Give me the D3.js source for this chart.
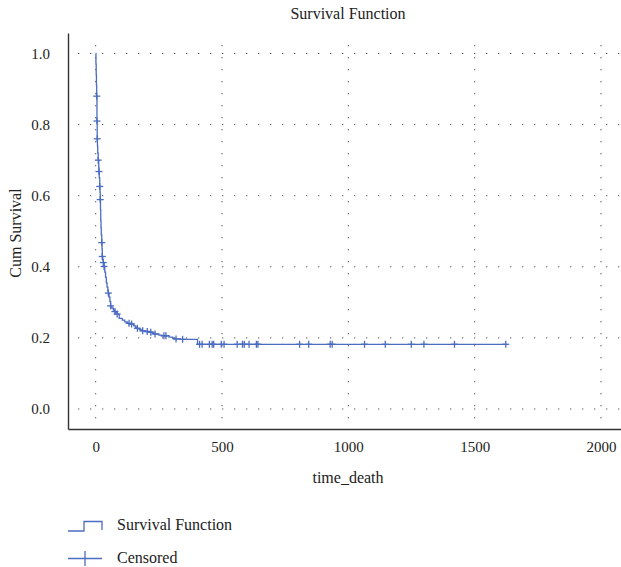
<!DOCTYPE html>
<html>
<head>
<meta charset="utf-8">
<script src="https://cdn.jsdelivr.net/npm/d3@7"></script>
<style>
  body { margin: 0; background: #fff; }
  svg { display: block; font-family: "Liberation Serif", "DejaVu Serif", serif; }
  .grid line { stroke: #555; stroke-width: 1; stroke-dasharray: 1.3 10.7; }
  .axis path { stroke: #333; stroke-width: 1.4; }
  .axis text { font-size: 15px; fill: #222; font-family: "Liberation Serif", serif; }
  .label { font-size: 16px; fill: #222; }
</style>
</head>
<body>
<div id="wrapper"></div>
<script>
// step points of the Kaplan-Meier curve (time, survival after the event)
const eventTimes = [0, 1, 2, 3, 4, 5, 6, 7, 8, 10, 12, 13, 14, 16, 17, 18, 19, 20, 21, 22, 24, 25, 26, 28, 30, 33,
  36, 39, 42, 45, 48, 50, 53, 56, 59, 64, 70, 76, 80, 85, 93, 105, 115, 125, 138, 150, 158, 165, 172, 180,
  195, 210, 225, 232, 250, 262, 290, 305, 312, 335, 403];
const eventSurvival = [1.0, 0.97, 0.94, 0.91, 0.88, 0.81, 0.76, 0.74, 0.72, 0.70, 0.68, 0.668, 0.65, 0.626, 0.61, 0.589, 0.56, 0.53, 0.51, 0.49, 0.468, 0.45, 0.429, 0.42, 0.412, 0.401,
  0.385, 0.37, 0.355, 0.343, 0.332, 0.326, 0.315, 0.303, 0.29, 0.284, 0.278, 0.274, 0.27, 0.267, 0.255, 0.25, 0.245, 0.241, 0.239, 0.234, 0.23, 0.227, 0.224, 0.22,
  0.218, 0.216, 0.213, 0.211, 0.208, 0.206, 0.202, 0.199, 0.197, 0.196, 0.182];

// censored observations
const censorTimes = [4, 5, 6, 10, 13, 16, 18, 24, 26, 30, 33, 50, 59, 76, 85, 132, 142, 165, 186, 204, 218, 235, 270, 278, 318, 344,
  411, 421, 450, 461, 467, 497, 508, 560, 581, 588, 607, 636, 642, 807, 843, 928, 936, 1064, 1146, 1249, 1299, 1420, 1623];

const xTicks = [0, 500, 1000, 1500, 2000];
const yTicks = [0.0, 0.2, 0.4, 0.6, 0.8, 1.0];

const lineColor = "#4b6cc0";

// survival at a given time (step function lookup)
const survivalAt = t => eventSurvival[d3.bisectRight(eventTimes, t) - 1];

// dimensions
const dimensions = {
  width: 621,
  height: 567,
  plot: { left: 68, right: 621, top: 33, bottom: 429 },
};

const wrapper = d3.select("#wrapper")
  .append("svg")
  .attr("width", dimensions.width)
  .attr("height", dimensions.height);

// scales
const xScale = d3.scaleLinear()
  .domain([-109.6, 2079])
  .range([dimensions.plot.left, dimensions.plot.right]);

const yScale = d3.scaleLinear()
  .domain([-0.0563, 1.0577])
  .range([dimensions.plot.bottom, dimensions.plot.top]);

// grid
const grid = wrapper.append("g").attr("class", "grid");
grid.selectAll(".vgrid")
  .data(xTicks)
  .enter().append("line")
  .attr("x1", d => xScale(d)).attr("x2", d => xScale(d))
  .attr("y1", dimensions.plot.top + 12).attr("y2", dimensions.plot.bottom);
grid.selectAll(".hgrid")
  .data(yTicks)
  .enter().append("line")
  .attr("x1", dimensions.plot.left + 10).attr("x2", dimensions.plot.right)
  .attr("y1", d => yScale(d)).attr("y2", d => yScale(d));

// axes
const xAxis = d3.axisBottom(xScale)
  .tickValues(xTicks)
  .tickSize(0)
  .tickPadding(12)
  .tickFormat(d3.format("d"));
wrapper.append("g")
  .attr("class", "axis")
  .attr("transform", `translate(0, ${dimensions.plot.bottom})`)
  .call(xAxis);

const yAxis = d3.axisLeft(yScale)
  .tickValues(yTicks)
  .tickSize(0)
  .tickPadding(18)
  .tickFormat(d3.format(".1f"));
wrapper.append("g")
  .attr("class", "axis")
  .attr("transform", `translate(${dimensions.plot.left}, 0)`)
  .call(yAxis);

// survival curve
const curvePoints = eventTimes.map((t, i) => [t, eventSurvival[i]]);
curvePoints.push([censorTimes[censorTimes.length - 1], eventSurvival[eventSurvival.length - 1]]);

const lineGenerator = d3.line()
  .x(d => xScale(d[0]))
  .y(d => yScale(d[1]))
  .curve(d3.curveStepAfter);

wrapper.append("path")
  .attr("d", lineGenerator(curvePoints))
  .attr("fill", "none")
  .attr("stroke", lineColor)
  .attr("stroke-width", 1.3);

// censor marks
const marks = wrapper.append("g")
  .selectAll("g")
  .data(censorTimes)
  .enter().append("g")
  .attr("transform", d => `translate(${xScale(d)}, ${yScale(survivalAt(d))})`)
  .attr("stroke", lineColor)
  .attr("stroke-width", 1.3);
marks.append("line").attr("x1", -3.5).attr("x2", 3.5);
marks.append("line").attr("y1", -3.5).attr("y2", 3.5);

// titles
wrapper.append("text")
  .attr("class", "label")
  .attr("x", 348).attr("y", 18.5)
  .attr("text-anchor", "middle")
  .text("Survival Function");

wrapper.append("text")
  .attr("class", "label")
  .attr("x", 348).attr("y", 483)
  .attr("text-anchor", "middle")
  .text("time_death");

wrapper.append("text")
  .attr("class", "label")
  .attr("transform", "translate(21, 233) rotate(-90)")
  .attr("text-anchor", "middle")
  .text("Cum Survival");

// legend
const legend = wrapper.append("g");
legend.append("path")
  .attr("d", "M68,531 H84 V521.5 H102 V530")
  .attr("fill", "none")
  .attr("stroke", lineColor)
  .attr("stroke-width", 1.3);
legend.append("text")
  .attr("class", "label")
  .attr("x", 117).attr("y", 529.5)
  .text("Survival Function");

legend.append("path")
  .attr("d", "M68,558.5 H102 M85,551 V566")
  .attr("fill", "none")
  .attr("stroke", lineColor)
  .attr("stroke-width", 1.3);
legend.append("text")
  .attr("class", "label")
  .attr("x", 117).attr("y", 562.5)
  .text("Censored");
</script>
</body>
</html>
